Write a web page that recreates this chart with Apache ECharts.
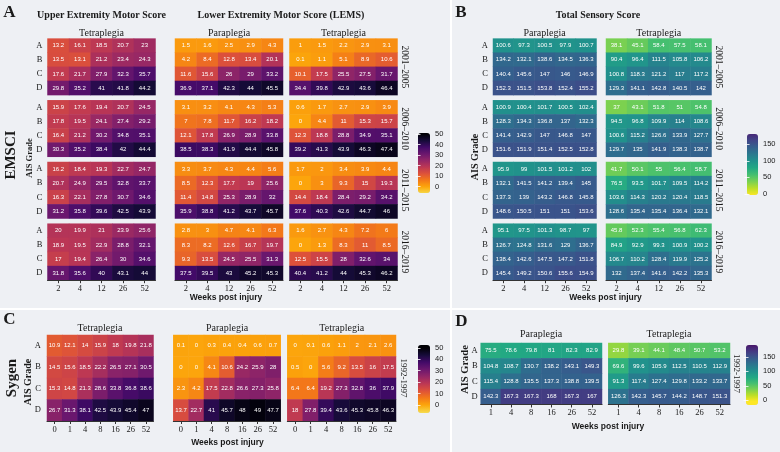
<!DOCTYPE html>
<html><head><meta charset="utf-8">
<script src="https://cdn.jsdelivr.net/npm/echarts/dist/echarts.min.js"></script>
<style>html,body{margin:0;padding:0;background:#fff}#c{width:780px;height:452px}</style>
</head><body><div id="c"></div>
<script>
// ---------- DATA ----------
const grades = ['A','B','C','D'];
const weeksEMSCI = ['2','4','12','26','52'];
const weeksSygenMotor = ['0','1','4','8','16','26','52'];
const weeksSygenSensory = ['1','4','8','16','26','52'];
const periodsEMSCI = ['2001–2005','2006–2010','2011–2015','2016–2019'];
const periodSygen = '1992-1997';
const motorLegendTicks = [0,10,20,30,40,50];
const sensoryLegendTicks = [0,50,100,150];

const uemsTetra2001 = [[13.2,16.1,18.5,20.7,23],[13.5,13.1,21.2,23.4,24.3],[17.6,21.7,27.9,32.3,35.7],[29.8,35.2,41,41.8,44.2]];
const uemsTetra2006 = [[15.9,17.6,19.4,20.7,24.5],[17.8,19.5,24.1,27.4,29.2],[16.4,21.2,30.2,34.8,35.1],[30.3,35.2,38.4,42,44.4]];
const uemsTetra2011 = [[16.2,18.4,19.3,22.7,24.7],[20.7,24.9,29.5,32.8,33.7],[16.3,22.1,27.8,30.7,34.6],[31.2,35.8,39.6,42.5,43.9]];
const uemsTetra2016 = [[20,19.9,21,23.9,25.6],[18.9,19.5,22.9,28.8,32.1],[17,19.4,26.4,30,34.6],[31.8,35.6,40,43.1,44]];

const lemsPara2001 = [[1.5,1.6,2.5,2.9,4.3],[4.2,8.4,12.8,13.4,20.1],[11.6,15.6,26,29,33.2],[36.9,37.1,42.3,44,45.5]];
const lemsPara2006 = [[3.1,3.2,4.1,4.3,5.3],[7,7.8,11.7,16.2,18.2],[12.1,17.8,26.9,28.9,33.8],[38.5,38.3,41.9,44.4,45.8]];
const lemsPara2011 = [[3.3,3.7,4.3,4.4,5.6],[8.5,12.3,17.7,19,25.6],[11.4,14.8,25.3,28.9,32],[35.9,38.8,41.2,43.7,45.7]];
const lemsPara2016 = [[2.8,3,4.7,4.1,6.3],[8.3,8.2,12.6,16.7,19.7],[9.3,13.5,24.5,25.5,31.3],[37.5,39.5,43,45.2,45.3]];

const lemsTetra2001 = [[1,1.5,2.2,2.9,3.1],[0.1,1.1,5.1,8.9,10.6],[10.1,17.5,25.5,27.5,31.7],[34.4,39.8,42.9,43.6,46.4]];
const lemsTetra2006 = [[0.6,1.7,2.7,2.9,3.9],[0,4.4,11,15.3,15.7],[12.3,18.8,28.8,34.9,35.1],[39.2,41.3,43.9,46.3,47.4]];
const lemsTetra2011 = [[1.7,2,3.4,3.9,4.4],[0,3,9.3,15,19.3],[14.4,18.4,28.4,29.2,34.2],[37.6,40.3,42.6,44.7,46]];
const lemsTetra2016 = [[1.6,2.7,4.3,7.2,6],[0,1.3,8.3,11,8.5],[12.5,15.5,28,32.6,34],[40.4,41.2,44,45.3,46.2]];

const tssPara2001 = [[100.6,97.3,100.5,97.9,100.7],[134.2,132.1,138.6,134.5,136.3],[140.4,145.6,147,146,146.9],[152.3,151.5,153.8,152.4,155.2]];
const tssPara2006 = [[100.9,100.4,101.7,100.5,102.4],[128.3,134.3,136.8,137,132.3],[141.4,142.9,147,146.8,147],[151.6,151.9,151.4,152.5,152.8]];
const tssPara2011 = [[95.9,99,101.5,101.2,102],[132.1,141.5,141.2,139.4,145],[137.3,139,143.2,146.8,145.8],[148.6,150.5,151,151,153.6]];
const tssPara2016 = [[95.1,97.5,101.3,98.7,97],[126.7,124.8,131.6,129,136.7],[138.4,142.6,147.5,147.2,151.8],[145.4,149.2,150.6,155.6,154.9]];

const tssTetra2001 = [[38.1,45.1,58.4,57.5,58.1],[90.4,96.4,111.5,105.8,106.2],[100.8,118.3,121.2,117,117.2],[129.3,141.1,142.8,140.5,142]];
const tssTetra2006 = [[37,43.1,51.8,51,54.8],[94.5,96.8,109.9,114,108.6],[100.6,115.2,126.6,133.9,127.7],[129.7,135,141.9,138.3,138.7]];
const tssTetra2011 = [[41.7,50.1,55,56.4,58.7],[76.5,93.5,101.7,109.5,114.2],[103.6,114.3,120.2,120.4,118.5],[128.6,135.4,135.4,136.4,132.1]];
const tssTetra2016 = [[45.8,52.3,55.4,56.8,62.3],[84.9,92.9,99.3,100.9,100.2],[106.7,110.2,128.4,119.9,125.2],[132,137.4,141.6,142.2,135.3]];

const sygenUemsTetra = [[10.9,12.1,14,15.9,18,19.8,21.8],[14.5,15.6,18.5,22.2,26.5,27.1,30.5],[15.3,14.8,21.3,28.6,33.8,36.8,38.6],[26.7,31.3,38.1,42.5,43.9,45.4,47]];
const sygenLemsPara = [[0.1,0,0.3,0.4,0.4,0.6,0.7],[0,0,4.1,10.6,24.2,25.9,28],[2.3,4.2,17.5,22.8,26.6,27.3,25.8],[13.7,22.7,41,45.7,48,49,47.7]];
const sygenLemsTetra = [[0,0.1,0.6,1.1,2,2.1,2.6],[0.5,0,5.6,9.2,13.5,16,17.5],[6.4,6.4,19.2,27.3,32.8,36,37.9],[18,27.8,39.4,43.6,45.3,45.8,46.3]];
const sygenTssPara = [[75.5,78.6,79.8,81,82.3,82.9],[104.8,108.7,130.7,138.2,143.1,149.3],[115.4,128.8,135.5,137.3,138.8,139.5],[142.3,167.3,167.3,168,167.3,167]];
const sygenTssTetra = [[29.8,39.1,44.1,48.4,50.7,53.2],[69.6,99.6,105.9,112.5,110.5,112.9],[91.3,117.4,127.4,129.8,133.2,133.7],[126.3,142.3,145.7,144.2,148.7,151.3]];

// ---------- STYLE / LAYOUT ----------
const SERIF = '"Liberation Serif","Times New Roman",serif';
const SANS = '"Liberation Sans",Arial,sans-serif';
// palette stops, position 0 (dark) .. 1 (light)
const INFERNO_STOPS = ['#000004','#160b39','#420a68','#6a176e','#932667','#bc3754','#dd513a','#f37819','#fca50a','#f6d746','#fcffa4'];
const VIRIDIS_STOPS = ['#440154','#482475','#414487','#355f8d','#2a788e','#21918c','#22a884','#44bf70','#7ad151','#bddf26','#fde725'];
const PANEL_BG = '#eef0f4';
const TEXT = '#1a1a1a';

function hex2rgb(h){ return [parseInt(h.slice(1,3),16), parseInt(h.slice(3,5),16), parseInt(h.slice(5,7),16)]; }
function paletteAt(stops, p) {
  p = Math.max(0, Math.min(1, p));
  const f = p * (stops.length - 1);
  const i = Math.min(stops.length - 2, Math.floor(f));
  const t = f - i;
  const a = hex2rgb(stops[i]), b = hex2rgb(stops[i + 1]);
  return 'rgb(' + a.map((c, k) => Math.round(c + (b[k] - c) * t)).join(',') + ')';
}
// colour position as function of value (reversed palettes: low = light)
const infernoPos = v => 0.8 - 0.016 * v;
const viridisPos = v => 0.98 - 0.0048 * v;
function ramp(stops, posFn, min, max) {
  const n = 90, out = [];
  for (let i = 0; i < n; i++) out.push(paletteAt(stops, posFn(min + (max - min) * i / (n - 1))));
  return out;
}

const chart = echarts.init(document.getElementById('c'), null, {renderer:'canvas', width:780, height:452});
const option = {backgroundColor:'#ffffff', animation:false, grid:[], xAxis:[], yAxis:[], series:[], visualMap:[], graphic:[]};

function addHeatmap(rect, xCats, matrix, showX, showY, yMargin) {
  const gi = option.grid.length;
  option.grid.push({left:rect[0], top:rect[1], width:rect[2], height:rect[3], containLabel:false, outerBoundsMode:'none',
    show:true, borderColor:'#f7f8fa', borderWidth:0.6, backgroundColor:'transparent'});
  const xi = option.xAxis.length;
  option.xAxis.push({type:'category', gridIndex:gi, data:xCats, position:'bottom', z:5,
    axisLine:{show:showX, onZero:false, lineStyle:{color:'#333', width:1}},
    axisTick:{show:showX, alignWithLabel:true, length:3, lineStyle:{color:'#333', width:1}},
    axisLabel:{show:showX, fontFamily:SERIF, fontSize:8.5, color:TEXT, margin:4},
    splitLine:{show:false}, splitArea:{show:false}});
  const yi = option.yAxis.length;
  option.yAxis.push({type:'category', gridIndex:gi, data:grades, inverse:true,
    axisLine:{show:false}, axisTick:{show:false},
    axisLabel:{show:showY, fontFamily:SERIF, fontSize:8.5, color:TEXT, margin:yMargin || 5},
    splitLine:{show:false}, splitArea:{show:false}});
  const data = [];
  matrix.forEach((row, r) => row.forEach((v, c) => data.push([c, r, v])));
  option.series.push({type:'heatmap', xAxisIndex:xi, yAxisIndex:yi, data:data,
    label:{show:true, color:'#ffffff', fontSize:6, fontFamily:SANS, formatter:p => String(p.data[2])},
    emphasis:{disabled:true}, itemStyle:{borderWidth:0}, progressive:0});
  return option.series.length - 1;
}

function addColorbar(rect, min, max, colors, seriesIdx, ticks) {
  option.visualMap.push({type:'continuous', min:min, max:max, dimension:2, seriesIndex:seriesIdx,
    inRange:{color:colors}, show:true, calculable:false, left:rect[0], top:rect[1],
    itemWidth:rect[2], itemHeight:rect[3], padding:0, orient:'vertical', text:null, showLabel:false, hoverLink:false});
  const gi = option.grid.length;
  option.grid.push({left:rect[0], top:rect[1], width:rect[2], height:rect[3], containLabel:false, outerBoundsMode:'none'});
  option.xAxis.push({type:'value', gridIndex:gi, show:false, min:0, max:1});
  option.yAxis.push({type:'value', gridIndex:gi, min:min, max:max, position:'right', z:20,
    axisLine:{show:false}, splitLine:{show:false},
    axisTick:{show:true, inside:true, length:2.5, lineStyle:{color:'#ffffff', width:0.8}, customValues:ticks},
    axisLabel:{show:true, customValues:ticks, fontSize:7.5, fontFamily:SANS, color:TEXT, margin:5}});
  option.yAxis.push({type:'value', gridIndex:gi, min:min, max:max, position:'left', z:20,
    axisLine:{show:false}, splitLine:{show:false},
    axisTick:{show:true, inside:true, length:2.5, lineStyle:{color:'#ffffff', width:0.8}, customValues:ticks},
    axisLabel:{show:false}});
}

function txt(str, x, y, font, rot, extra) {
  option.graphic.push(Object.assign({type:'text', x:x, y:y, rotation:rot || 0, z:50, silent:true,
    style:{text:str, font:font, fill:TEXT, align:'center', verticalAlign:'middle'}}, extra || {}));
}

// panel backgrounds
[[0,0,450,308],[452,0,328,308],[0,310,450,142],[452,310,328,142]].forEach(r => {
  option.graphic.push({type:'rect', z:-100, silent:true, shape:{x:r[0], y:r[1], width:r[2], height:r[3]}, style:{fill:PANEL_BG}});
});

// ---------- PANEL A & B (EMSCI) ----------
const rowTops = [38.6, 100.3, 162, 223.7];
const rowH = 56.5;
const motorA = [];
const sensB = [];
const uemsBlocks = [uemsTetra2001, uemsTetra2006, uemsTetra2011, uemsTetra2016];
const lemsParaBlocks = [lemsPara2001, lemsPara2006, lemsPara2011, lemsPara2016];
const lemsTetraBlocks = [lemsTetra2001, lemsTetra2006, lemsTetra2011, lemsTetra2016];
const tssParaBlocks = [tssPara2001, tssPara2006, tssPara2011, tssPara2016];
const tssTetraBlocks = [tssTetra2001, tssTetra2006, tssTetra2011, tssTetra2016];
rowTops.forEach((t, i) => {
  const last = i === 3;
  motorA.push(addHeatmap([47.5, t, 108, rowH], weeksEMSCI, uemsBlocks[i], last, true, 5));
  motorA.push(addHeatmap([175, t, 108, rowH], weeksEMSCI, lemsParaBlocks[i], last, false));
  motorA.push(addHeatmap([289.5, t, 108, rowH], weeksEMSCI, lemsTetraBlocks[i], last, false));
  sensB.push(addHeatmap([493, t, 103.5, rowH], weeksEMSCI, tssParaBlocks[i], last, true, 5));
  sensB.push(addHeatmap([606, t, 105.5, rowH], weeksEMSCI, tssTetraBlocks[i], last, false));
  txt(periodsEMSCI[i], 404, t + rowH / 2, '9.5px ' + SERIF, -Math.PI / 2);
  txt(periodsEMSCI[i], 718, t + rowH / 2, '9.5px ' + SERIF, -Math.PI / 2);
});

// ---------- PANEL C & D (Sygen) ----------
const motorC = [];
motorC.push(addHeatmap([47, 335, 106.5, 86], weeksSygenMotor, sygenUemsTetra, true, true, 6));
motorC.push(addHeatmap([173.3, 335, 107.4, 86], weeksSygenMotor, sygenLemsPara, true, false));
motorC.push(addHeatmap([287.3, 335, 108.7, 86], weeksSygenMotor, sygenLemsTetra, true, false));
const sensD = [];
sensD.push(addHeatmap([480.7, 343, 121.3, 61.5], weeksSygenSensory, sygenTssPara, true, true, 3));
sensD.push(addHeatmap([608.3, 343, 121.7, 61.5], weeksSygenSensory, sygenTssTetra, true, false));

addColorbar([418, 133, 12, 60], -6, 51, ramp(INFERNO_STOPS, infernoPos, -6, 51), motorA, motorLegendTicks);
addColorbar([747, 134, 11, 61], -3, 181, ramp(VIRIDIS_STOPS, viridisPos, -3, 181), sensB, sensoryLegendTicks);
addColorbar([418, 345, 12, 68], -7, 52.5, ramp(INFERNO_STOPS, infernoPos, -7, 52.5), motorC, motorLegendTicks);
addColorbar([746, 345, 12, 60], -17, 192, ramp(VIRIDIS_STOPS, viridisPos, -17, 192), sensD, sensoryLegendTicks);
txt(periodSygen, 403, 378, '9px ' + SERIF, -Math.PI / 2);
txt(periodSygen, 736, 373.5, '9px ' + SERIF, -Math.PI / 2);

// ---------- TEXTS ----------
const boldSerif = s => 'bold ' + s + 'px ' + SERIF;
txt('A', 9.5, 13, boldSerif(17));
txt('B', 461, 13, boldSerif(17));
txt('C', 9.5, 319.5, boldSerif(17));
txt('D', 461.5, 322, boldSerif(17));
txt('Upper Extremity Motor Score', 101.5, 15.5, boldSerif(10));
txt('Lower Extremity Motor Score (LEMS)', 281, 15.5, boldSerif(10));
txt('Total Sensory Score', 598, 15.5, boldSerif(10));
txt('Tetraplegia', 101.5, 33, '10px ' + SERIF);
txt('Paraplegia', 229, 33, '10px ' + SERIF);
txt('Tetraplegia', 343.5, 33, '10px ' + SERIF);
txt('Paraplegia', 544.5, 33, '10px ' + SERIF);
txt('Tetraplegia', 658.7, 33, '10px ' + SERIF);
txt('Tetraplegia', 100, 328.5, '10px ' + SERIF);
txt('Paraplegia', 227, 328.5, '10px ' + SERIF);
txt('Tetraplegia', 341.7, 328.5, '10px ' + SERIF);
txt('Paraplegia', 541, 334, '10px ' + SERIF);
txt('Tetraplegia', 669, 334, '10px ' + SERIF);
txt('EMSCI', 11.5, 155, boldSerif(15), Math.PI / 2);
txt('Sygen', 12.5, 378, boldSerif(15), Math.PI / 2);
txt('AIS Grade', 30, 158, boldSerif(8.5), Math.PI / 2);
txt('AIS Grade', 475.5, 157, boldSerif(10), Math.PI / 2);
txt('AIS Grade', 28.5, 382, boldSerif(10), Math.PI / 2);
txt('AIS Grade', 465.5, 369.5, boldSerif(10.5), Math.PI / 2);
const wFont = 'bold 8.5px ' + SANS;
txt('Weeks post injury', 226, 298, wFont);
txt('Weeks post injury', 605.5, 298, wFont);
txt('Weeks post injury', 227.5, 443, wFont);
txt('Weeks post injury', 608, 426.5, wFont);

// separators
option.graphic.push({type:'rect', z:-99, silent:true, shape:{x:450, y:0, width:2, height:452}, style:{fill:'#ffffff'}});
option.graphic.push({type:'rect', z:-99, silent:true, shape:{x:0, y:308, width:780, height:2}, style:{fill:'#ffffff'}});

chart.setOption(option);
</script>
</body></html>
